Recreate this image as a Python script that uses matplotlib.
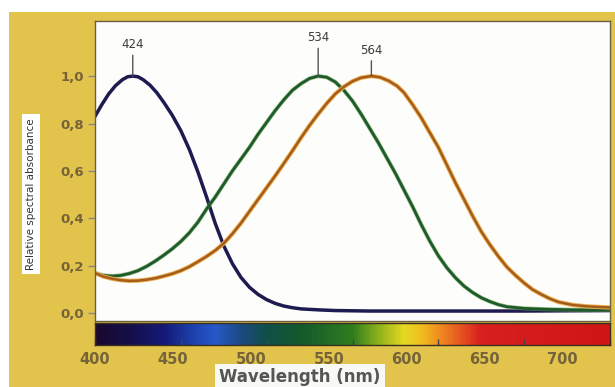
import numpy as np
import matplotlib
matplotlib.use('Agg')
import matplotlib.pyplot as plt
from matplotlib.colors import LinearSegmentedColormap
from matplotlib.patches import Rectangle

plt.rcParams['font.family'] = 'DejaVu Sans'

# S cone (blue)
s_wl = [400, 404, 408, 412, 416, 419, 422, 425, 428, 432, 436, 440, 445, 450, 455, 460, 465, 470,
        475, 480, 485, 490, 495, 500, 505, 510, 515, 520, 530, 540, 560, 600, 650, 700]
s_val = [0.83, 0.88, 0.925, 0.96, 0.985, 0.997, 1.0, 0.997, 0.985, 0.962, 0.93, 0.89, 0.835, 0.77,
         0.69, 0.595, 0.49, 0.38, 0.285, 0.21, 0.152, 0.11, 0.08, 0.058, 0.042, 0.031, 0.024, 0.019,
         0.015, 0.012, 0.01, 0.01, 0.01, 0.012]

# M cone (green)
m_wl = [400, 405, 410, 415, 420, 425, 430, 435, 440, 445, 450, 455, 460, 465, 470, 475, 480, 485,
        490, 495, 500, 505, 510, 515, 520, 525, 530, 535, 540, 545, 550, 555, 560, 565, 570, 575,
        580, 585, 590, 595, 600, 605, 610, 615, 620, 625, 630, 635, 640, 650, 665, 680, 700]
m_val = [0.17, 0.16, 0.157, 0.16, 0.168, 0.18, 0.198, 0.22, 0.245, 0.272, 0.303, 0.34, 0.385, 0.44,
         0.49, 0.545, 0.6, 0.65, 0.70, 0.755, 0.805, 0.855, 0.9, 0.94, 0.968, 0.99, 1.0, 0.995, 0.975,
         0.94, 0.895, 0.84, 0.78, 0.72, 0.655, 0.59, 0.52, 0.45, 0.375, 0.305, 0.243, 0.192, 0.15,
         0.115, 0.088, 0.066, 0.05, 0.037, 0.028, 0.021, 0.017, 0.015, 0.015]

# L cone (orange)
l_wl = [400, 405, 410, 415, 420, 425, 430, 435, 440, 445, 450, 455, 460, 465, 470, 475, 480, 485,
        490, 495, 500, 505, 510, 515, 520, 525, 530, 535, 540, 545, 550, 555, 561, 566, 571, 576,
        580, 585, 590, 595, 600, 605, 610, 615, 620, 625, 630, 635, 640, 645, 650, 655, 660, 665,
        670, 678, 686, 694, 700]
l_val = [0.17, 0.155, 0.146, 0.14, 0.137, 0.138, 0.142, 0.148, 0.157, 0.167, 0.18, 0.197, 0.218,
         0.24, 0.265, 0.295, 0.335, 0.38, 0.43, 0.48, 0.53, 0.58, 0.632, 0.685, 0.74, 0.792, 0.84,
         0.885, 0.925, 0.955, 0.978, 0.993, 1.0, 0.995, 0.98, 0.958, 0.93, 0.88, 0.825, 0.762, 0.70,
         0.625, 0.55, 0.48, 0.41, 0.345, 0.29, 0.24, 0.195, 0.16, 0.128, 0.1, 0.08, 0.062, 0.048,
         0.036, 0.03, 0.027, 0.025]

peak_labels = ['424', '534', '564']
yticks = [0.0, 0.2, 0.4, 0.6, 0.8, 1.0]
ytick_labels = ['0,0', '0,2', '0,4', '0,6', '0,8', '1,0']
xticks = [400, 450, 500, 550, 600, 650, 700]

# spectrum strip colours
spec_wl = [400, 420, 440, 460, 470, 485, 500, 520, 550, 565, 580, 590, 600, 612, 625, 700]
spec_col = ['#1a0830', '#15104a', '#141a78', '#2048b8', '#2858c8', '#1a4a80', '#0f5048', '#135a2c',
            '#2f7d1e', '#8cb01c', '#e6d820', '#f0c020', '#f09020', '#e85a20', '#d82020', '#d01515']

W, H = 615, 387
fig = plt.figure(figsize=(W / 100, H / 100), dpi=100, facecolor='white')
fig.patches.append(Rectangle((9 / W, 0), 1 - 9 / W, 1 - 12 / H, transform=fig.transFigure,
                             facecolor='#e2c34c', edgecolor='none', zorder=-10))

ax = fig.add_axes([95 / W, 1 - 321 / H, 515 / W, 300 / H])
cax = fig.add_axes([95 / W, 1 - 345 / H, 515 / W, 22 / H])

ax.set_facecolor('#fdfdfb')
ax.plot(s_wl, s_val, color='#1d1b4f', lw=2.5)
ax.plot(m_wl, m_val, color='#5e9a4a', lw=3.0, alpha=0.6)
ax.plot(m_wl, m_val, color='#1f5a2a', lw=2.0)
ax.plot(l_wl, l_val, color='#f0b050', lw=3.1)
ax.plot(l_wl, l_val, color='#a45e1c', lw=1.8)

offsets = [18, 23, 14]
for wl, val, lab, off in zip([s_wl, m_wl, l_wl], [s_val, m_val, l_val], peak_labels, offsets):
    i = int(np.argmax(val))
    ax.annotate(lab, xy=(wl[i], val[i]), xytext=(0, off), textcoords='offset points',
                ha='center', va='bottom', fontsize=8.5, color='#3a3a3a',
                arrowprops=dict(arrowstyle='-', color='#555555', lw=1.0,
                                shrinkA=1, shrinkB=0, relpos=(0.5, 0)))

ax.set_xlim(400, 700)
ax.set_ylim(-0.032, 1.232)
ax.set_yticks(yticks)
ax.set_yticklabels(ytick_labels, fontsize=9.5, fontweight='bold', color='#75643a')
ax.tick_params(axis='y', direction='out', length=5, width=1, color='#8a8a80', pad=3)
ax.set_xticks([])
for sp in ax.spines.values():
    sp.set_color('#6b6040')
    sp.set_linewidth(1.0)

# spectrum strip
cmap = LinearSegmentedColormap.from_list(
    'spec', [((w - 400) / 300, c) for w, c in zip(spec_wl, spec_col)])
grad = np.linspace(0, 1, 600).reshape(1, -1)
cax.imshow(grad, aspect='auto', cmap=cmap, extent=[400, 700, 0, 1])
cax.set_xlim(400, 700)
cax.set_yticks([])
cax.set_xticks(xticks)
cax.set_xticklabels([])
cax.tick_params(axis='x', direction='in', length=4, width=1, color='#444444')
for sp in cax.spines.values():
    sp.set_color('#3a3020')
    sp.set_linewidth(1.0)

# the printed labels sit on a slightly compressed scale relative to the ticks
k = 1.715 / 1.557
sec = cax.secondary_xaxis('bottom', functions=(lambda x: 400 + (x - 400) * k,
                                               lambda v: 400 + (v - 400) / k))
sec.set_xticks(xticks)
sec.set_xticklabels([str(t) for t in xticks], fontsize=10.5, fontweight='bold', color='#75643a')
sec.tick_params(length=0, pad=5)
sec.spines['bottom'].set_visible(False)

fig.text(31 / W, 1 - 194 / H, 'Relative spectral absorbance', rotation=90, ha='center', va='center',
         fontsize=7.5, color='#333333',
         bbox=dict(facecolor='white', edgecolor='none', pad=3))
fig.text(300 / W, 1 - 377 / H, 'Wavelength (nm)', ha='center', va='center',
         fontsize=12, fontweight='bold', color='#555555',
         bbox=dict(facecolor='#f8f8f4', edgecolor='none', pad=3))

fig.savefig('out.png', dpi=100, facecolor=fig.get_facecolor())
